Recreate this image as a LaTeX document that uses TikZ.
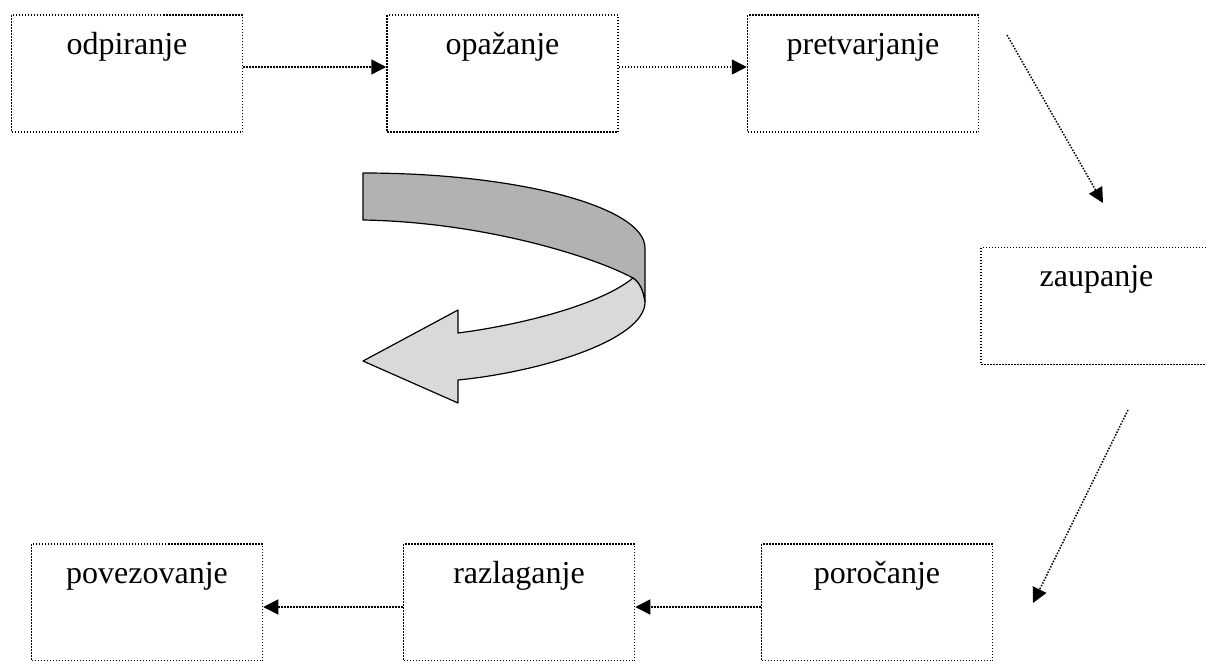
\documentclass[tikz,border=0pt]{standalone}
\usepackage{fontspec}
\setmainfont{Liberation Serif}
\usetikzlibrary{arrows.meta,calc}
\definecolor{ribbondark}{RGB}{178,178,178}
\definecolor{ribbonlight}{RGB}{217,217,217}
\begin{document}
\begin{tikzpicture}[x=0.5pt,y=-0.5pt,
  dots/.style={line width=0.75pt,dash pattern=on 0.75pt off 0.75pt},
  stepbox/.style={draw,dots,rectangle,minimum width=115.5pt,minimum height=58.5pt,inner sep=0pt},
  lbl/.style={anchor=base,yshift=-20pt,font=\fontsize{16}{19}\selectfont,inner sep=0pt},
  flow/.style={dots,-{Triangle[length=7.5pt,width=7.5pt]}},
  ribbon/.style={draw=black,line width=0.6pt,line join=round}]
\useasboundingbox (0,0) rectangle (1206,660);

% boxes of the process
\node[stepbox,label={[lbl]north:odpiranje}]    (b1) at (127,73.5) {};
\node[stepbox,label={[lbl]north:opažanje}]     (b2) at (502.5,73.5) {};
\node[stepbox,label={[lbl]north:pretvarjanje}] (b3) at (863,73.5) {};
\node[stepbox,label={[lbl]north:zaupanje}]     (b4) at (1096.5,306) {};
\node[stepbox,label={[lbl]north:poročanje}]    (b5) at (877,602.5) {};
\node[stepbox,label={[lbl]north:razlaganje}]   (b6) at (519,602.5) {};
\node[stepbox,label={[lbl]north:povezovanje}]  (b7) at (147,602.5) {};

% free ends of the diagonal connectors
\coordinate (d1s) at (1007,35);
\coordinate (d1e) at (1103,203);
\coordinate (d2s) at (1128,410);
\coordinate (d2e) at (1033,603);

% connectors
\draw[flow] ($(b1.east)+(0,-6.5)$) -- ($(b2.west)+(0,-6.5)$);
\draw[flow] ($(b2.east)+(0,-6.5)$) -- ($(b3.west)+(0,-6.5)$);
\draw[flow] (d1s) -- (d1e);
\draw[flow] (d2s) -- (d2e);
\draw[flow] ($(b5.west)+(0,4.5)$) -- ($(b6.east)+(0,4.5)$);
\draw[flow] ($(b6.west)+(0,4.5)$) -- ($(b7.east)+(0,4.5)$);

% curved ribbon arrow: back (dark) part
\draw[ribbon,fill=ribbondark]
  (363,173) .. controls (518,173) and (645,207) .. (645,248)
  -- (645,302)
  .. controls (643,290) and (640,283) .. (633,278)
  .. controls (590,255) and (480,222) .. (363,220) -- cycle;
% front (light) part with the arrow head
\draw[ribbon,fill=ribbonlight]
  (633,278) .. controls (600,305) and (520,325) .. (458,333)
  -- (458,310) -- (363,361) -- (458,403) -- (458,380)
  .. controls (540,372) and (645,340) .. (645,302)
  .. controls (643,290) and (640,283) .. (633,278) -- cycle;
\end{tikzpicture}
\end{document}
